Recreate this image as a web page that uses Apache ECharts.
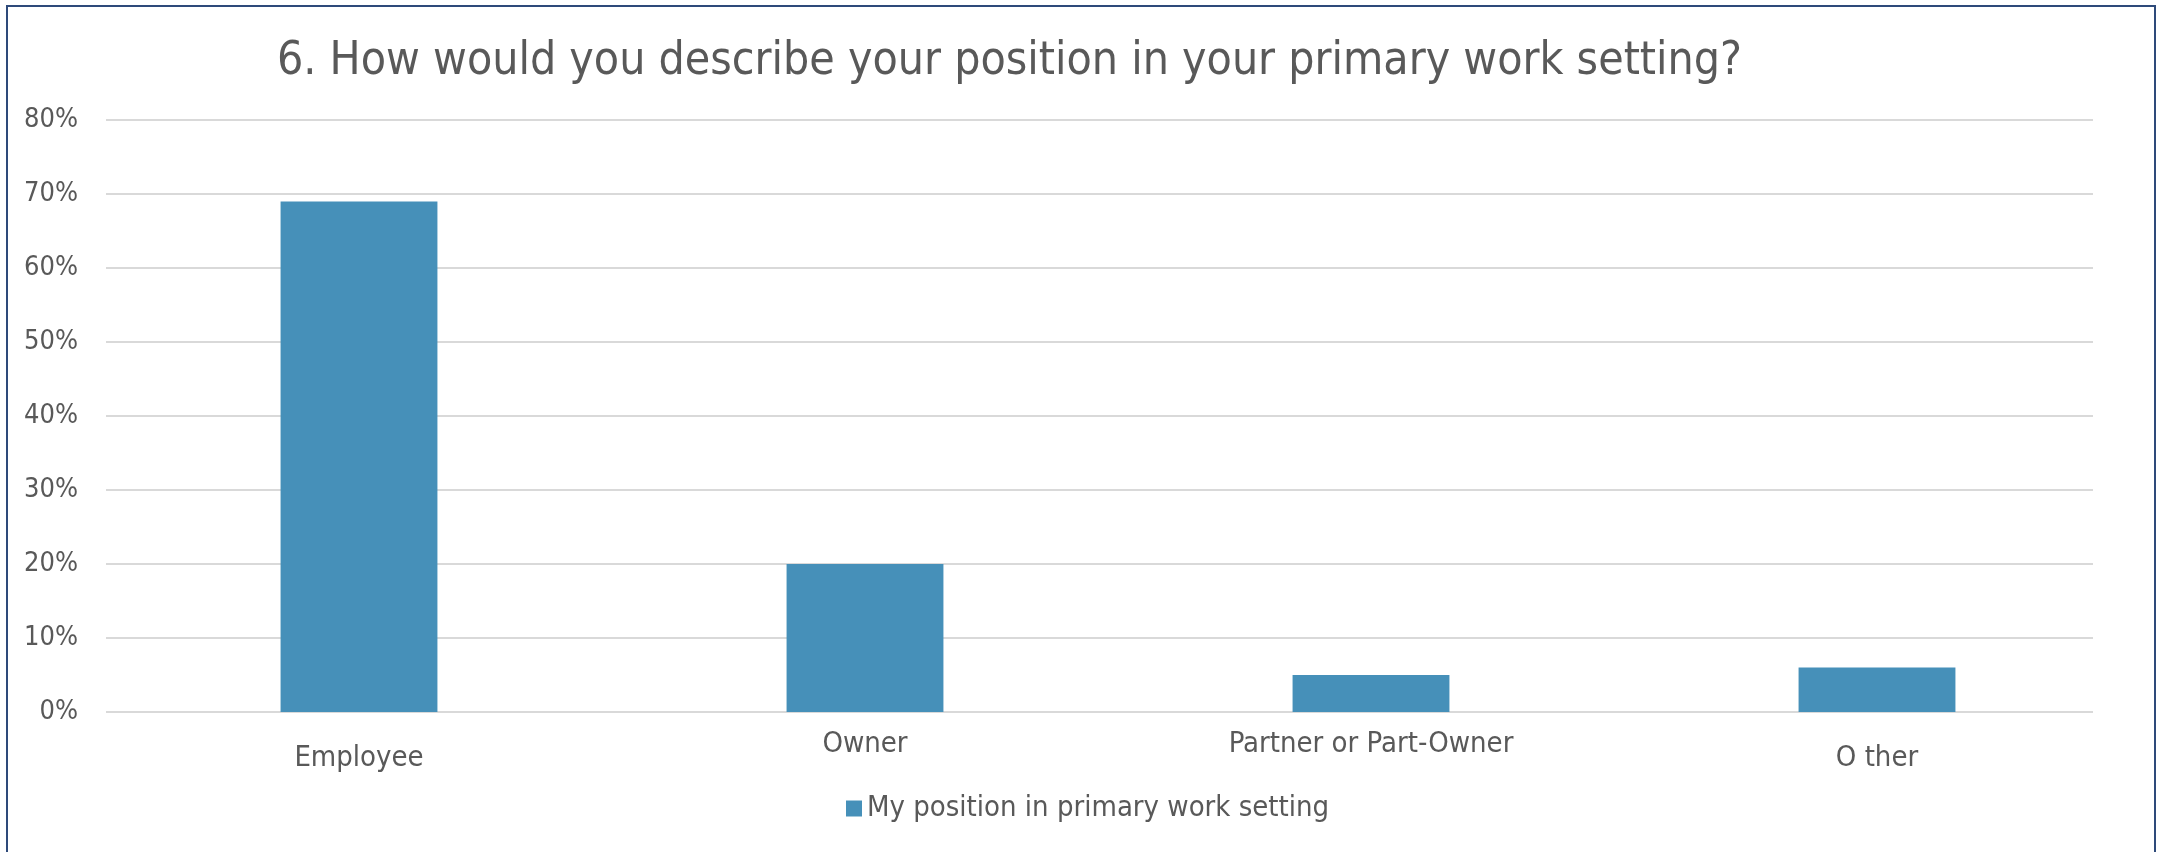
<!DOCTYPE html>
<html>
<head>
<meta charset="utf-8">
<script src="https://cdn.jsdelivr.net/npm/echarts@6/dist/echarts.min.js"></script>
<style>
  html, body { margin: 0; padding: 0; background: #fff; }
  #chart { position: absolute; left: 0; top: 0; width: 2160px; height: 852px; }
  #frame { position: absolute; left: 6px; top: 5px; width: 2146px; height: 900px;
           border: 2px solid #2E4A7A; pointer-events: none; }
</style>
</head>
<body>
<div id="chart"></div>
<div id="frame"></div>
<script>
(function() {
  var categories = ['Employee', 'Owner', 'Partner or Part-Owner', 'O ther'];
  var positionValues = [69, 20, 5, 6];
  var seriesName = 'My position in primary work setting';
  var titleText = '6. How would you describe your position in your primary work setting?';

  var font = "'Liberation Sans Narrow', 'DejaVu Sans Condensed', sans-serif";
  var ink = '#595959';
  var rule = '#D9D9D9';
  var barColor = '#4690B9';

  // Owner / Partner labels sit a little higher than the other two in the original
  var raised = { 'Owner': true, 'Partner or Part-Owner': true };

  var chart = echarts.init(document.getElementById('chart'), null, { renderer: 'canvas' });
  chart.setOption({
    animation: false,
    title: {
      text: titleText,
      left: 272,
      top: 34,
      textStyle: { color: ink, fontFamily: font, fontSize: 46, fontWeight: 'normal' }
    },
    legend: {
      data: [seriesName],
      left: 841,
      top: 789,
      icon: 'rect',
      itemWidth: 16,
      itemHeight: 16,
      textStyle: { color: ink, fontFamily: font, fontSize: 29 }
    },
    grid: [
      { left: 106, right: 30, top: 120, bottom: 140 },   // bars
      { left: 106, right: 67, top: 120, bottom: 140 }    // gridlines only
    ],
    xAxis: [
      {
        type: 'category',
        gridIndex: 0,
        data: categories,
        axisLine: { show: false },
        axisTick: { show: false },
        axisLabel: {
          margin: 18,
          formatter: function(v) { return raised[v] ? '{up|' + v + '}' : '{dn|' + v + '}'; },
          rich: {
            up: { color: ink, fontFamily: font, fontSize: 29, padding: [0, 0, 0, 0] },
            dn: { color: ink, fontFamily: font, fontSize: 29, padding: [14, 0, 0, 0] }
          }
        }
      },
      { type: 'value', gridIndex: 1, show: false }
    ],
    yAxis: [
      {
        type: 'value',
        gridIndex: 0,
        min: 0,
        max: 80,
        interval: 10,
        axisLine: { show: false },
        axisTick: { show: false },
        axisLabel: { color: ink, fontFamily: font, fontSize: 27, margin: 28, formatter: '{value}%' },
        splitLine: { show: false }
      },
      {
        type: 'value',
        gridIndex: 1,
        min: 0,
        max: 80,
        interval: 10,
        axisLine: { show: false },
        axisTick: { show: false },
        axisLabel: { show: false },
        splitLine: { lineStyle: { color: rule, width: 2 } }
      }
    ],
    series: [{
      name: seriesName,
      type: 'bar',
      xAxisIndex: 0,
      yAxisIndex: 0,
      data: positionValues,
      barWidth: '31%',
      itemStyle: { color: barColor }
    }]
  });
})();
</script>
</body>
</html>
